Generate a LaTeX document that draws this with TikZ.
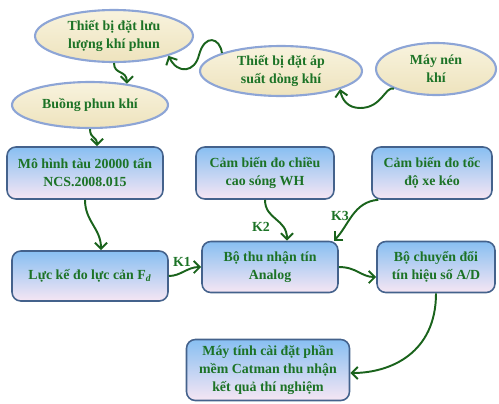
\documentclass[tikz,border=0pt]{standalone}
\usepackage{fontspec}
\setmainfont{Liberation Serif}
\usepackage{xcolor}
\usepackage{tikz}
\usetikzlibrary{shapes.geometric,arrows.meta,calc}
\definecolor{chuxanh}{HTML}{1C7326}
\definecolor{muixanh}{HTML}{1A631C}
\definecolor{vienxanh}{HTML}{8DA5D6}
\definecolor{kemsang}{HTML}{F8F3DE}
\definecolor{kemdam}{HTML}{EEE3BD}
\definecolor{xanhtroi}{HTML}{88BFF2}
\definecolor{hongnhat}{HTML}{F6E6F3}
\definecolor{vienkhoi}{HTML}{44628C}

\begin{document}
\begin{tikzpicture}[x=0.02cm,y=-0.02cm,
    >={Straight Barb[length=3.5pt,width=7pt]},
    every node/.style={font=\fontsize{7.9}{10.2}\selectfont\bfseries, text=chuxanh, align=center},
    thietbi/.style={ellipse, draw=vienxanh, line width=1.2pt, top color=kemsang, bottom color=kemdam, inner sep=0pt},
    khoi/.style={rectangle, rounded corners=5pt, draw=vienkhoi, line width=0.9pt, top color=xanhtroi, bottom color=hongnhat, inner sep=0pt},
    muiten/.style={->, draw=muixanh, line width=1.1pt}]
        \useasboundingbox (0,0) rectangle (499,403);

        \node[thietbi, minimum width=3.16cm, minimum height=1.04cm] (e1) at (114,36) {Thiết bị đặt lưu\\lượng khí phun};
        \node[thietbi, minimum width=3.12cm, minimum height=0.92cm] (e2) at (90,105) {Buồng phun khí};
        \node[thietbi, minimum width=3.24cm, minimum height=1.0cm] (e3) at (281,71) {Thiết bị đặt áp\\suất dòng khí};
        \node[thietbi, minimum width=2.4cm, minimum height=1.04cm] (e4) at (436,69) {Máy nén\\khí};

        \node[khoi, minimum width=3.12cm, minimum height=1.04cm] (b1) at (85,173) {Mô hình tàu 20000 tấn\\NCS.2008.015};
        \node[khoi, minimum width=2.76cm, minimum height=1.04cm] (b2) at (265,173) {Cảm biến đo chiều\\cao sóng WH};
        \node[khoi, minimum width=2.4cm, minimum height=1.04cm] (b3) at (432,173) {Cảm biến đo tốc\\độ xe kéo};
        \node[khoi, minimum width=3.12cm, minimum height=1.0cm] (b4) at (90,276) {Lực kế đo lực cản F\textsubscript{\itshape d}};
        \node[khoi, minimum width=2.72cm, minimum height=1.02cm] (b5) at (270,267) {Bộ thu nhận tín\\Analog};
        \node[khoi, minimum width=2.36cm, minimum height=1.02cm] (b6) at (436,267) {Bộ chuyển đổi\\tín hiệu số A/D};
        \node[khoi, minimum width=3.26cm, minimum height=1.22cm] (b7) at (268,370) {Máy tính cài đặt phần\\mềm Catman thu nhận\\kết quả thí nghiệm};

        \node (k1) at (182,262) {K1};
        \node (k2) at (261,227) {K2};
        \node (k3) at (340,216) {K3};

        \draw[muiten] (e1.south) .. controls +(0,12) and +(0,-14) .. (e2.30);
        \draw[muiten] (e3.163) .. controls (220,38) and (205,33) .. (199,55) .. controls (195,72) and (178,75) .. (e1.-20);
        \draw[muiten] (e4.205) .. controls (385,86) and (382,108) .. (360,108) .. controls (348,108) and (342,100) .. (e3.-17);
        \draw[muiten] (e2.south) .. controls +(0,10) and +(0,-10) .. ($(b1.north)+(12,0)$);
        \draw[muiten] (b1.south) .. controls +(0,22) and +(0,-22) .. ($(b4.north)+(11,0)$);
        \draw[muiten] (b4.east) .. controls +(12,0) and +(-14,0) .. (b5.west);
        \draw[muiten] (b2.south) .. controls +(0,20) and +(0,-22) .. ($(b5.north)+(17,0)$);
        \draw[muiten] ($(b3.south west)+(7,0)$) .. controls +(-25,2) and +(15,-15) .. ($(b5.north east)+(-5,0)$);
        \draw[muiten] (b5.east) .. controls +(18,0) and +(-15,0) .. ($(b6.west)+(0,10)$);
        \draw[muiten] (b6.south) .. controls +(0,60) and +(40,0) .. ($(b7.east)+(0,3)$);
    \end{tikzpicture}
\end{document}
